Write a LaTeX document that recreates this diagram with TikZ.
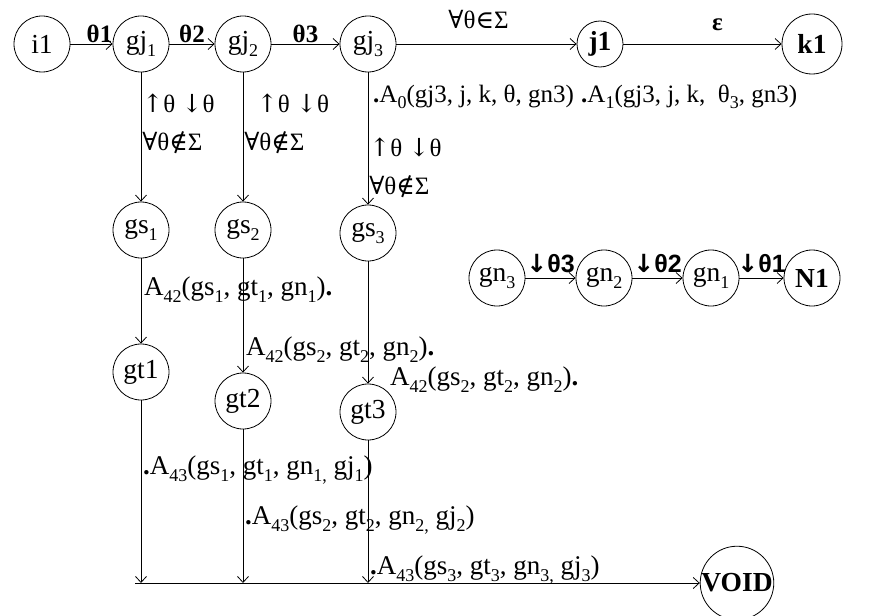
\documentclass[tikz,border=0pt]{standalone}
\usepackage{fontspec}
\usetikzlibrary{arrows.meta}
\setmainfont{Liberation Serif}
\newfontfamily\simb{DejaVu Serif}
\newfontfamily\flecha{DejaVu Sans}
\newfontfamily\sansb{Liberation Sans}
\newcommand{\letra}{\fontsize{25}{38}\selectfont}
\newcommand{\letrae}{\fontsize{27.5}{30}\selectfont}
\newcommand{\indice}[1]{\raisebox{-0.25em}{\fontsize{18}{18}\selectfont #1}}
\newcommand{\nao}{{\simb ∀}θ{\simb ∉}Σ}
\newcommand{\sobe}{{\simb ↑}θ {\simb ↓}θ}
\begin{document}
\begin{tikzpicture}[x=1pt,y=-1pt,>={Straight Barb[length=6pt,width=11pt]},
    estado/.style={circle,draw,line width=0.8pt,minimum size=56pt,inner sep=0pt,font=\letrae},
    rotulo/.style={font=\letra,inner sep=1pt},
    acao/.style={font=\fontsize{27}{30}\selectfont,inner sep=1pt,anchor=west},
    seta/.style={->,line width=0.8pt}]
    \useasboundingbox (0,0) rectangle (869,615);
    % Define os estados
    \node[estado] (i1) at (42,44) {i1};
    \node[estado] (gj1) at (141,44) {gj\indice{1}};
    \node[estado] (gj2) at (243,44) {gj\indice{2}};
    \node[estado] (gj3) at (368,44) {gj\indice{3}};
    \node[estado,minimum size=46pt] (j1) at (600,44) {\textbf{j1}};
    \node[estado,minimum size=60pt] (k1) at (812,44) {\textbf{k1}};
    \node[estado] (gs1) at (141,230) {gs\indice{1}};
    \node[estado] (gs2) at (243,230) {gs\indice{2}};
    \node[estado] (gs3) at (368,233) {gs\indice{3}};
    \node[estado] (gt1) at (141,372) {gt1};
    \node[estado] (gt2) at (243,401) {gt2};
    \node[estado] (gt3) at (368,412) {gt3};
    \node[estado] (gn3) at (497,278) {gn\indice{3}};
    \node[estado] (gn2) at (604,278) {gn\indice{2}};
    \node[estado] (gn1) at (711,278) {gn\indice{1}};
    \node[estado] (N1) at (812,278) {\textbf{N1}};
    \node[estado,minimum size=62pt] (VOID) at (737,583) {\textbf{VOID}};
    % Pontos da linha de baixo
    \coordinate (f0) at (135,583);
    \coordinate (f1) at (141,583);
    \coordinate (f2) at (243,583);
    \coordinate (f3) at (368,583);
    % Conecta estados
    \draw[seta] (i1) -- node[rotulo,above,xshift=8pt] {\textbf{θ1}} (gj1);
    \draw[seta] (gj1) -- node[rotulo,above] {\textbf{θ2}} (gj2);
    \draw[seta] (gj2) -- node[rotulo,above] {\textbf{θ3}} (gj3);
    \draw[seta] (gj3) -- node[rotulo,above,yshift=14pt,xshift=-8pt] {{\simb ∀}θ{\simb ∈}Σ} (j1);
    \draw[seta] (j1) -- node[rotulo,above,yshift=12pt,xshift=15pt] {\textbf{ε}} (k1);
    \draw[seta] (gj1) -- node[rotulo,right,align=left,pos=0.4] {\sobe\\\nao} (gs1);
    \draw[seta] (gj2) -- node[rotulo,right,align=left,pos=0.4] {\ \ \sobe\\\nao} (gs2);
    \draw[seta] (gj3) -- node[rotulo,right,align=left,pos=0.72] {\sobe\\\nao} (gs3);
    \draw[seta] (gs1) -- (gt1);
    \draw[seta] (gs2) -- (gt2);
    \draw[seta] (gs3) -- (gt3);
    \draw[seta] (gt1) -- (f1);
    \draw[seta] (gt2) -- (f2);
    \draw[seta] (gt3) -- (f3);
    \draw[seta] (f0) -- (VOID);
    \draw[seta] (gn3) -- node[rotulo,above,yshift=4pt] {\sansb\bfseries{\flecha ↓}θ3} (gn2);
    \draw[seta] (gn2) -- node[rotulo,above,yshift=4pt] {\sansb\bfseries{\flecha ↓}θ2} (gn1);
    \draw[seta] (gn1) -- node[rotulo,above,yshift=4pt] {\sansb\bfseries{\flecha ↓}θ1} (N1);
    % Acoes
    \node[rotulo,anchor=west] (a0) at (372,97) {\textbf{.}A\indice{0}(gj3, j, k, θ, gn3)};
    \node[rotulo,anchor=west] (a1) at (580,97) {\textbf{.}A\indice{1}(gj3, j, k,\ \ θ\indice{3}, gn3)};
    \node[acao] (a421) at (143,290) {A\indice{42}(gs\indice{1}, gt\indice{1}, gn\indice{1})\textbf{.}};
    \node[acao] (a422) at (245,350) {A\indice{42}(gs\indice{2}, gt\indice{2}, gn\indice{2})\textbf{.}};
    \node[acao] (a423) at (389,380) {A\indice{42}(gs\indice{2}, gt\indice{2}, gn\indice{2})\textbf{.}};
    \node[acao] (a431) at (142,470) {\textbf{.}A\indice{43}(gs\indice{1}, gt\indice{1}, gn\indice{1,} gj\indice{1})};
    \node[acao] (a432) at (244,520) {\textbf{.}A\indice{43}(gs\indice{2}, gt\indice{2}, gn\indice{2,} gj\indice{2})};
    \node[acao] (a433) at (369,570) {\textbf{.}A\indice{43}(gs\indice{3}, gt\indice{3}, gn\indice{3,} gj\indice{3})};
\end{tikzpicture}
\end{document}
